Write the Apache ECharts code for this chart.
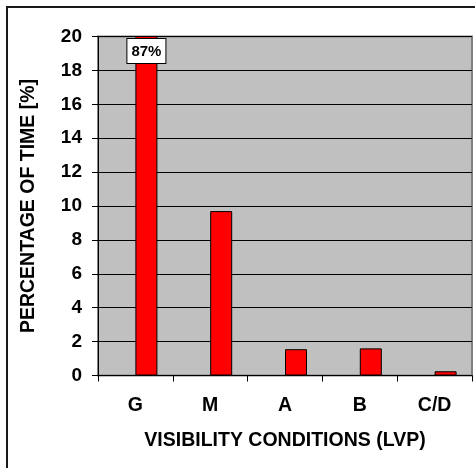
<!DOCTYPE html>
<html>
<head>
<meta charset="utf-8">
<script src="https://cdn.jsdelivr.net/npm/echarts@6/dist/echarts.min.js"></script>
<style>
html,body{margin:0;padding:0;background:#fff;}
#chart{width:475px;height:468px;}
</style>
</head>
<body>
<div id="chart"></div>
<script>
var categories = ['G', 'M', 'A', 'B', 'C/D'];
var percentTime = [87, 9.7, 1.55, 1.6, 0.25];
var yTicks = [0, 2, 4, 6, 8, 10, 12, 14, 16, 18, 20];
var xTitle = 'VISIBILITY CONDITIONS (LVP)';
var yTitle = 'PERCENTAGE OF TIME [%]';

var FONT = '"Liberation Sans", Arial, sans-serif';
var chart = echarts.init(document.getElementById('chart'), null, {renderer: 'canvas'});

var barData = percentTime.map(function (v, i) {
  var item = {value: v};
  if (i === 0) {
    item.label = {
      show: true,
      position: 'insideTop',
      distance: 3,
      formatter: '{c}%',
      color: '#000',
      fontFamily: FONT,
      fontWeight: 'bold',
      fontSize: 15,
      backgroundColor: '#fff',
      borderColor: '#000',
      borderWidth: 1,
      padding: [5, 4, 4, 4]
    };
  }
  return item;
});

chart.setOption({
  backgroundColor: '#fff',
  animation: false,
  graphic: [{
    type: 'rect',
    shape: {x: 7, y: 7, width: 500, height: 500},
    style: {fill: 'none', stroke: '#1a1a1a', lineWidth: 2},
    z: 100
  }],
  grid: {
    left: 98, top: 36.5, right: 3, bottom: 92.5,
    show: true,
    backgroundColor: '#c0c0c0',
    borderColor: '#808080',
    borderWidth: 2
  },
  xAxis: {
    type: 'category',
    data: categories,
    name: xTitle,
    nameLocation: 'middle',
    nameGap: 55,
    nameTextStyle: {fontFamily: FONT, fontWeight: 'bold', fontSize: 19.5, color: '#000'},
    axisLine: {lineStyle: {color: '#000', width: 1}},
    axisTick: {show: true, interval: 0, length: 6, lineStyle: {color: '#000'}},
    axisLabel: {margin: 20, fontFamily: FONT, fontWeight: 'bold', fontSize: 19.5, color: '#000'},
    splitLine: {show: false}
  },
  yAxis: {
    type: 'value',
    min: yTicks[0],
    max: yTicks[yTicks.length - 1],
    interval: yTicks[1] - yTicks[0],
    name: yTitle,
    nameLocation: 'middle',
    nameGap: 59,
    nameTextStyle: {fontFamily: FONT, fontWeight: 'bold', fontSize: 19.5, color: '#000'},
    axisLine: {show: true, lineStyle: {color: '#000', width: 1}},
    axisTick: {show: true, length: 6, lineStyle: {color: '#000'}},
    axisLabel: {margin: 16, fontFamily: FONT, fontWeight: 'bold', fontSize: 19, color: '#000'},
    splitLine: {show: true, lineStyle: {color: '#000', width: 1}}
  },
  series: [{
    type: 'bar',
    data: categories.map(function () { return null; }),
    barWidth: 22,
    barGap: '0%'
  }, {
    type: 'bar',
    data: barData,
    barWidth: 22,
    barGap: '0%',
    itemStyle: {color: '#ff0000', borderColor: '#000', borderWidth: 1}
  }]
});
</script>
</body>
</html>
